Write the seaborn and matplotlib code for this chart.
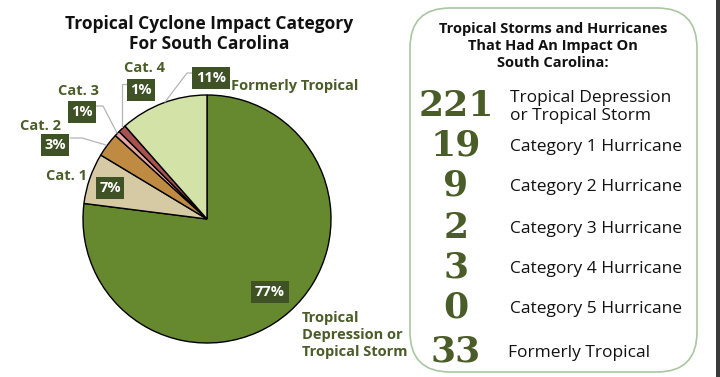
import matplotlib
matplotlib.use("Agg")
import matplotlib.pyplot as plt
import seaborn as sns
from matplotlib.patches import FancyBboxPatch, Rectangle

# Data: storms that impacted South Carolina
categories = ["Tropical Depression or Tropical Storm", "Cat. 1", "Cat. 2", "Cat. 3", "Cat. 4", "Cat. 5", "Formerly Tropical"]
counts = [221, 19, 9, 2, 3, 0, 33]
box_labels = ["Tropical Depression\nor Tropical Storm", "Category 1 Hurricane", "Category 2 Hurricane",
              "Category 3 Hurricane", "Category 4 Hurricane", "Category 5 Hurricane", "Formerly Tropical"]
slice_colors = ["#66882e", "#d6caa4", "#bf8b42", "#e8a3a3", "#a8524f", "#7a2f2f", "#d3e2a7"]

sns.set_theme(style="white")
plt.rcParams['font.family'] = ['Open Sans', 'DejaVu Sans']

OLIVE = "#4a5c28"
BOXC = "#3f5225"

fig = plt.figure(figsize=(7.2, 3.77), dpi=100)

# Pie axes (centre ~ (207,219) px, radius ~124 px)
cx, cy, r, half = 207, 219, 124, 132
pax = fig.add_axes([(cx - half) / 720, (377 - cy - half) / 377, 2 * half / 720, 2 * half / 377])
vals = [c for c in counts if c > 0]
cols = [col for c, col in zip(counts, slice_colors) if c > 0]
pax.pie(vals, colors=sns.color_palette(cols), startangle=90, counterclock=False, radius=1,
        wedgeprops=dict(edgecolor="black", linewidth=1))
lim = half / r
pax.set_xlim(-lim, lim)
pax.set_ylim(-lim, lim)
pax.set_aspect("equal")
pax.axis("off")

# Overlay in pixel coordinates for text, leaders and the side box
ov = fig.add_axes([0, 0, 1, 1])
ov.set_xlim(0, 720)
ov.set_ylim(377, 0)
ov.axis("off")
ov.patch.set_alpha(0)

total = sum(counts)
pct = {cat: f"{round(100 * c / total)}%" for cat, c in zip(categories, counts)}

# Title
ov.text(209, 34, "Tropical Cyclone Impact Category\nFor South Carolina", ha="center", va="center",
        fontsize=12.5, fontweight="bold", color="#111111", linespacing=1.15)

# Leader lines
lc = "#b5b5b5"
ov.plot([70, 82, 106], [138, 138, 145], color=lc, lw=0.9)
ov.plot([96, 103, 117], [106, 106, 133], color=lc, lw=0.9)
ov.plot([128, 122, 122], [84, 84, 127], color=lc, lw=0.9)
ov.plot([194, 187, 165], [73, 73, 102], color=lc, lw=0.9)

# Percent boxes
pbox = dict(boxstyle="square,pad=0.25", fc=BOXC, ec="none")
pct_pos = {"Tropical Depression or Tropical Storm": (270, 292), "Cat. 1": (110, 188), "Cat. 2": (55, 145),
           "Cat. 3": (82, 112), "Cat. 4": (141, 90), "Formerly Tropical": (211, 78)}
for cat, (x, y) in pct_pos.items():
    ov.text(x, y, pct[cat], ha="center", va="center", color="white", fontsize=10.5,
            fontweight="bold", bbox=pbox)

# Category labels
lab = dict(color=OLIVE, fontsize=10.5, fontweight="bold", va="center")
ov.text(66, 176, "Cat. 1", ha="center", **lab)
ov.text(40, 126, "Cat. 2", ha="center", **lab)
ov.text(78, 91, "Cat. 3", ha="center", **lab)
ov.text(144, 68, "Cat. 4", ha="center", **lab)
ov.text(231, 86, "Formerly Tropical", ha="left", **lab)
ov.text(302, 335, "Tropical\nDepression or\nTropical Storm", ha="left", linespacing=1.3, **lab)

# Side box
ov.add_patch(FancyBboxPatch((410, 8), 287, 364, boxstyle="round,pad=0,rounding_size=40",
                            fc="white", ec="#a9c7a0", lw=1.2))
ov.text(553, 46, "Tropical Storms and Hurricanes\nThat Had An Impact On\nSouth Carolina:", ha="center",
        va="center", fontsize=10.5, fontweight="bold", color="#111111", linespacing=1.25)

num_y = [106, 146, 186, 228, 268, 308, 352]
for n, desc, y in zip(counts, box_labels, num_y):
    ov.text(456, y, str(n), ha="center", va="center", fontsize=26, fontweight="bold",
            family="DejaVu Serif", color=OLIVE)
    ov.text(510 if desc != "Formerly Tropical" else 508, y + 1, desc, ha="left", va="center",
            fontsize=12.5, color="#111111", linespacing=1.2)

# Dark strip at the right edge
ov.add_patch(Rectangle((716, 0), 4, 377, fc="#3a3a3a", ec="none"))

plt.savefig("out.png", dpi=100)
